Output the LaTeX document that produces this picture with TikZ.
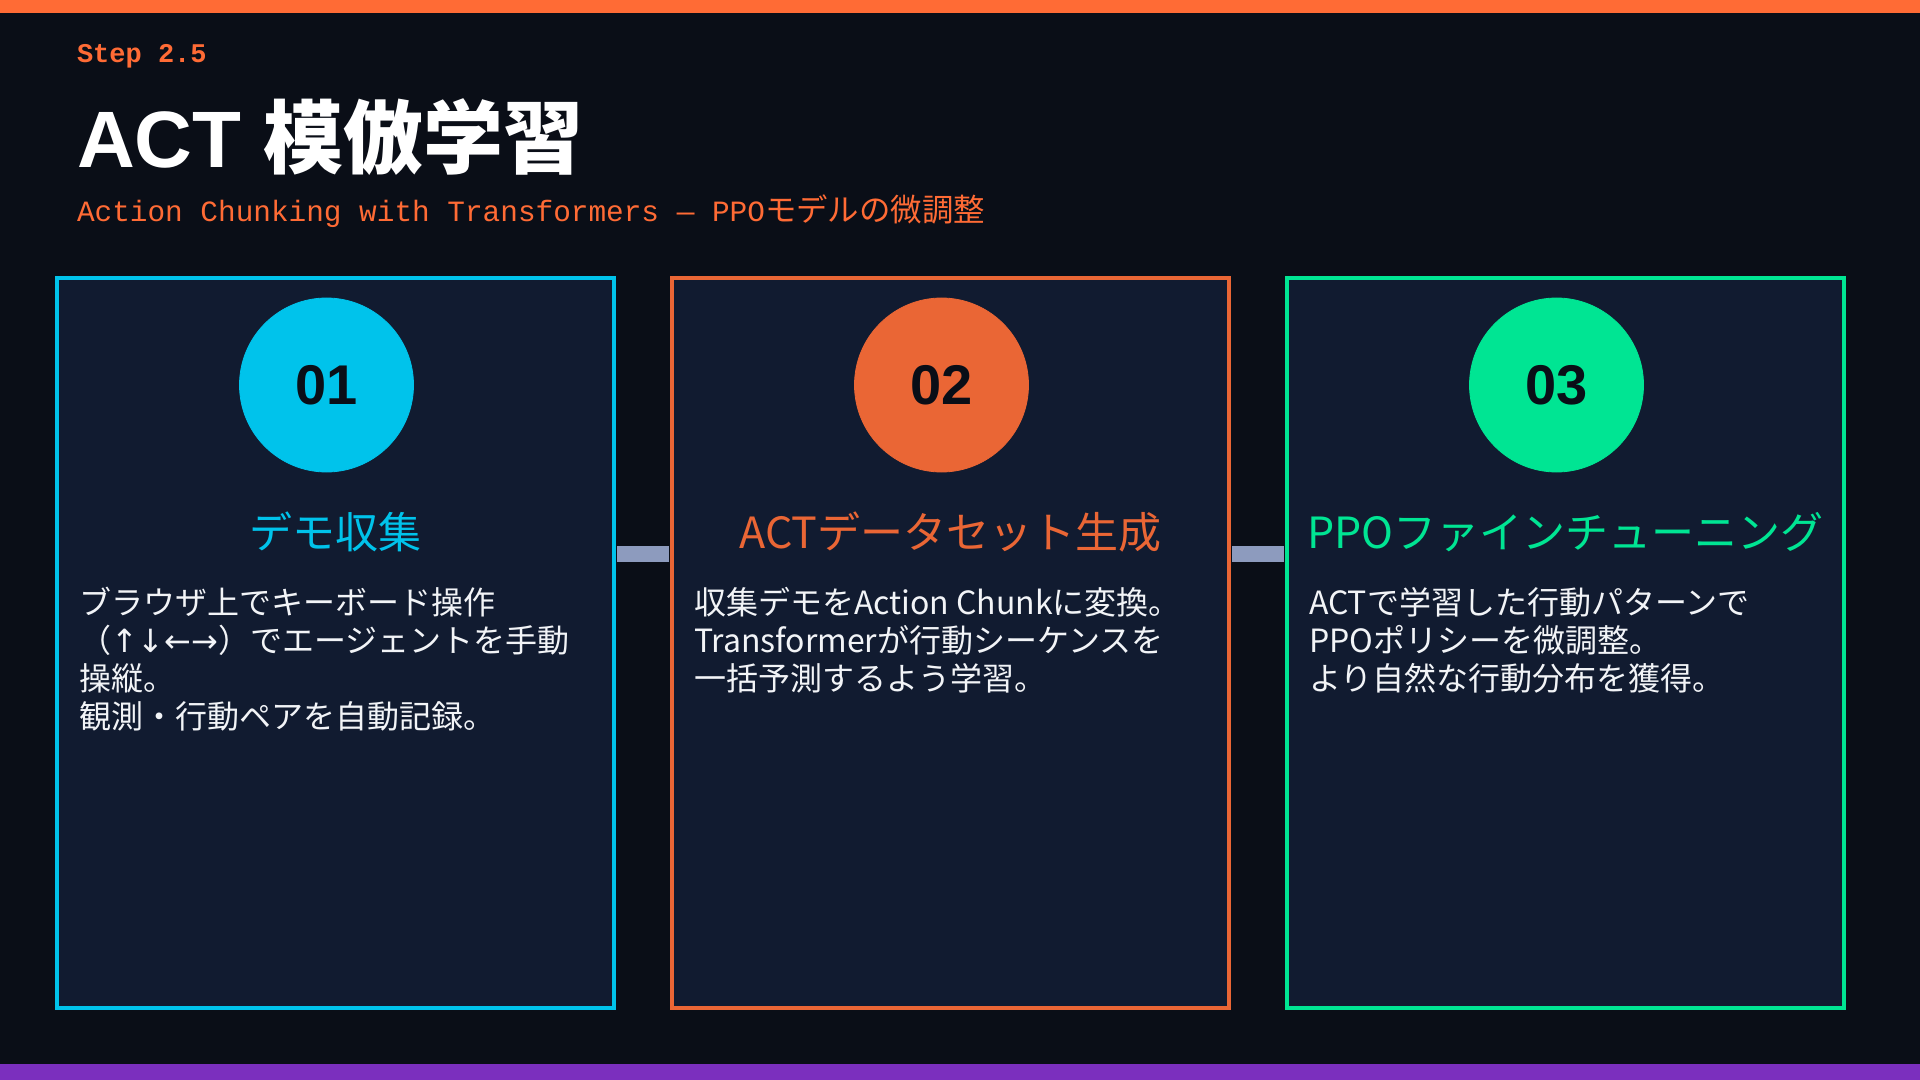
\documentclass[tikz,border=0pt]{standalone}
\usepackage{fontspec}
\setmainfont{Noto Sans CJK JP}
\newfontfamily\headfont{Liberation Sans}
\newfontfamily\codefont{Liberation Mono}
\newfontfamily\arrowfont{DejaVu Sans}
\usetikzlibrary{calc}
\usetikzlibrary{graphs}
\usetikzlibrary{positioning}

\definecolor{pagebg}{HTML}{0A0E17}
\definecolor{cardbg}{HTML}{111B30}
\definecolor{accent}{HTML}{FF6B35}
\definecolor{cyanish}{HTML}{00C3EB}
\definecolor{orangish}{HTML}{EA6635}
\definecolor{greenish}{HTML}{00E593}
\definecolor{purplebar}{HTML}{7B2FBE}
\definecolor{linkgray}{HTML}{8D9BBE}
\definecolor{bodytext}{HTML}{F2F4F7}

\begin{document}
\begin{tikzpicture}[x=0.5pt, y=-0.5pt,
        every node/.style={inner sep=0pt, outer sep=0pt},
        card/.style={draw=#1, line width=2pt, fill=cardbg, minimum width=278.5pt, minimum height=365pt},
        badge/.style={circle, fill=#1, draw=#1, minimum size=87pt, text=pagebg, font=\headfont\bfseries\fontsize{28}{28}\selectfont},
        heading/.style={anchor=base, text=#1, font=\fontsize{21.5}{26}\selectfont},
        body/.style={anchor=north west, align=left, text=bodytext, font=\fontsize{16}{19}\selectfont},
        link/.style={draw=linkgray, line width=8pt, shorten <=1.5pt, shorten >=1.5pt}]
        \fill[pagebg] (0,0) rectangle (1920,1080);
        \fill[accent] (0,0) rectangle (1920,13);
        \fill[purplebar] (0,1064) rectangle (1920,1080);

        \node[anchor=base west, text=accent, font=\codefont\bfseries\fontsize{13.5}{13.5}\selectfont] (step) at (77,63) {Step 2.5};
        \node[anchor=base west, text=white, font=\headfont\bfseries\fontsize{40}{40}\selectfont] (title) at (77,168) {ACT {\normalfont\bfseries 模倣学習}};
        \node[anchor=base west, text=accent, font=\codefont\fontsize{14.7}{14.7}\selectfont] (subtitle) at (77,222) {Action Chunking with Transformers — PPO{\normalfont\fontsize{15.7}{15.7}\selectfont モデルの微調整}};

        \node[card=cyanish] (demo) at (335.5,643) {};
        \node[card=orangish, right=29pt of demo] (dataset) {};
        \node[card=greenish, right=29pt of dataset] (finetune) {};

        \node[badge=cyanish] (demo badge) at ($(demo.north)+(-9,107)$) {01};
        \node[badge=orangish] (dataset badge) at ($(dataset.north)+(-9,107)$) {02};
        \node[badge=greenish] (finetune badge) at ($(finetune.north)+(-9,107)$) {03};

        \node[heading=cyanish] (demo head) at ($(demo.north)+(0,270)$) {デモ収集};
        \node[heading=orangish] (dataset head) at ($(dataset.north)+(0,270)$) {ACTデータセット生成};
        \node[heading=greenish] (finetune head) at ($(finetune.north)+(0,270)$) {PPOファインチューニング};

        \node[body] (demo text) at ($(demo.north west)+(22,309)$) {ブラウザ上でキーボード操作\\（{\arrowfont ↑↓←→}）でエージェントを手動\\操縦。\\観測・行動ペアを自動記録。};
        \node[body] (dataset text) at ($(dataset.north west)+(22,309)$) {収集デモをAction Chunkに変換。\\Transformerが行動シーケンスを\\一括予測するよう学習。};
        \node[body] (finetune text) at ($(finetune.north west)+(22,309)$) {ACTで学習した行動パターンで\\PPOポリシーを微調整。\\より自然な行動分布を獲得。};

        \coordinate (bar level) at (0,554);
        \coordinate (demo port) at (demo.east |- bar level);
        \coordinate (dataset in) at (dataset.west |- bar level);
        \coordinate (dataset port) at (dataset.east |- bar level);
        \coordinate (finetune in) at (finetune.west |- bar level);

        \graph { [edges={link}]
            (demo port) -- (dataset in),
            (dataset port) -- (finetune in),
        };
    \end{tikzpicture}
\end{document}
